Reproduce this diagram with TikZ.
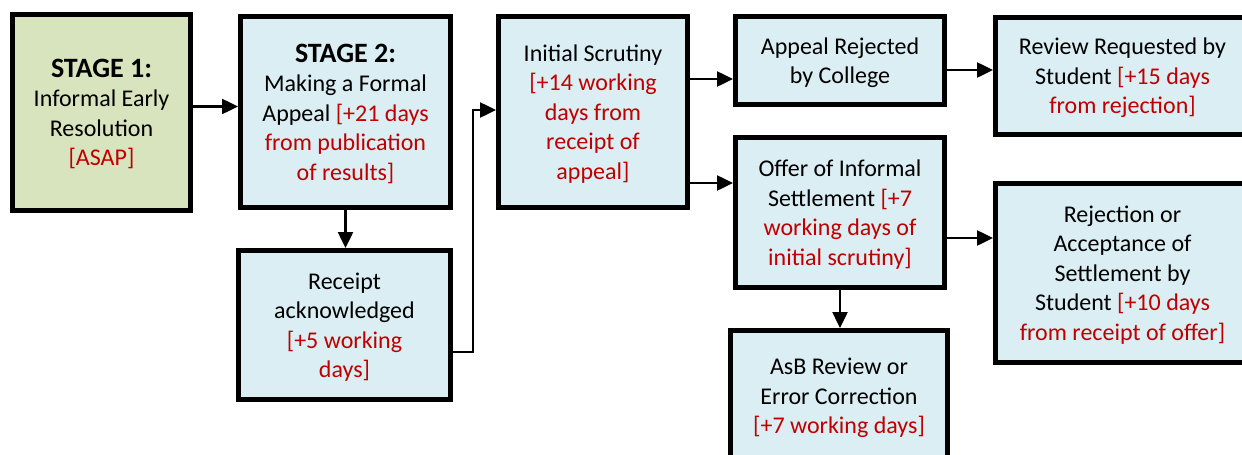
\documentclass[tikz,border=0pt]{standalone}
\usepackage{fontspec}
\setmainfont{Carlito}
\usetikzlibrary{arrows.meta,shadows}

\definecolor{boxblue}{HTML}{DAEEF3}
\definecolor{stagegreen}{HTML}{D7E4BD}
\definecolor{daysred}{HTML}{C00000}
\newcommand{\dur}[1]{\textcolor{daysred}{#1}}

\tikzset{
    stagebox/.style={draw, line width=5pt, fill=boxblue, align=center, inner sep=0pt,
        font=\fontsize{24}{29.5}\selectfont, text depth=0pt,
        drop shadow={opacity=0.3, shadow xshift=2pt, shadow yshift=-2pt}},
    flow/.style={line width=2.5pt, -{Triangle[length=16pt,width=15pt]}}
}

\begin{document}
\begin{tikzpicture}[x=1pt,y=-1pt]
                \clip (0,0) rectangle (1242,455);

                \node[stagebox, fill=stagegreen, minimum width=178pt, minimum height=196pt] (s1) at (101.5,112.5)
                    {\fontsize{28}{33}\selectfont\bfseries STAGE 1:\\Informal Early\\Resolution\\\dur{[ASAP]}};
                \node[stagebox, minimum width=210pt, minimum height=191pt] (s2) at (345.5,112)
                    {\fontsize{28}{33}\selectfont\bfseries STAGE 2:\\Making a Formal\\Appeal \dur{[+21 days}\\\dur{from publication}\\\dur{of results]}};
                \node[stagebox, minimum width=212pt, minimum height=149pt] (rcpt) at (344.5,325)
                    {Receipt\\acknowledged\\\dur{[+5 working}\\\dur{days]}};
                \node[stagebox, minimum width=189pt, minimum height=191pt] (init) at (593,112)
                    {Initial Scrutiny\\\dur{[+14 working}\\\dur{days from}\\\dur{receipt of}\\\dur{appeal]}};
                \node[stagebox, minimum width=209pt, minimum height=88pt] (rej) at (840,60.5)
                    {Appeal Rejected\\by College};
                \node[stagebox, minimum width=254pt, minimum height=117pt] (revw) at (1122.5,76)
                    {Review Requested by\\Student \dur{[+15 days}\\\dur{from rejection]}};
                \node[stagebox, minimum width=209pt, minimum height=150pt] (offer) at (840,212.5)
                    {Offer of Informal\\Settlement \dur{[+7}\\\dur{working days of}\\\dur{initial scrutiny]}};
                \node[stagebox, minimum width=254pt, minimum height=179pt] (accept) at (1122.5,273)
                    {Rejection or\\Acceptance of\\Settlement by\\Student \dur{[+10 days}\\\dur{from receipt of offer]}};
                \node[stagebox, minimum width=217pt, minimum height=131pt] (asb) at (839,396)
                    {AsB Review or\\Error Correction\\\dur{[+7 working days]}};

                \draw[flow] ([yshift=6pt]s1.east) -- ([yshift=6pt]s1.east -| s2.west);
                \draw[flow] (s2.south) -- (s2.south |- rcpt.north);
                \draw[flow] ([yshift=-27pt]rcpt.east) -- ++(20,0) |- ([yshift=2pt]init.west);
                \draw[flow] ([yshift=33pt]init.east) -- ([yshift=33pt]init.east -| rej.west);
                \draw[flow] ([yshift=-71pt]init.east) -- ([yshift=-71pt]init.east -| offer.west);
                \draw[flow] ([yshift=-9.5pt]rej.east) -- ([yshift=-9.5pt]rej.east -| revw.west);
                \draw[flow] ([yshift=-25.5pt]offer.east) -- ([yshift=-25.5pt]offer.east -| accept.west);
                \draw[flow] (offer.south) -- (offer.south |- asb.north);
\end{tikzpicture}
\end{document}
